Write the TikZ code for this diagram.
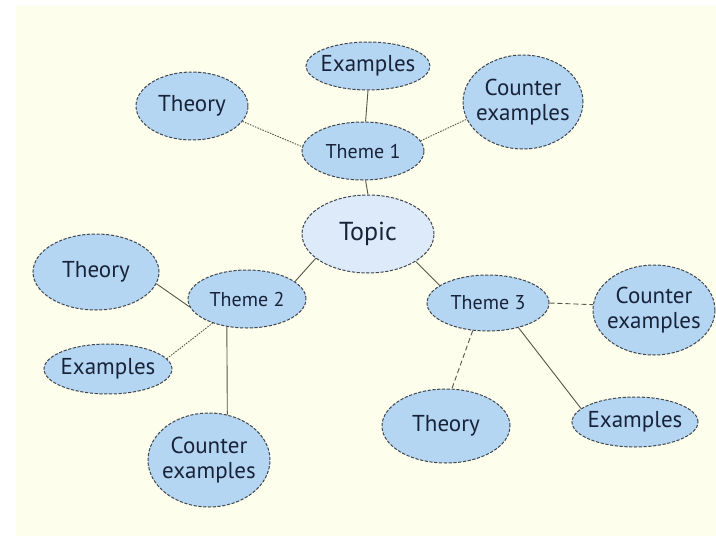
\documentclass[tikz,border=0pt]{standalone}
\usepackage{fontspec}
\setmainfont{PT Sans}
\usetikzlibrary{shapes.geometric}
\definecolor{bgcream}{HTML}{FEFEEC}
\definecolor{nodeblue}{HTML}{B5D6F2}
\definecolor{topicblue}{HTML}{DCEAF9}
\definecolor{edgegray}{HTML}{3F464F}
\definecolor{txtnavy}{HTML}{18233A}
\definecolor{linkgray}{HTML}{55554C}
\tikzset{
  bubble/.style={ellipse, draw=edgegray, line width=1pt, dash pattern=on 3.2pt off 1.6pt,
    fill=nodeblue, inner sep=-10pt, text=txtnavy, align=center,
    font=\fontsize{23}{25}\selectfont},
  themebubble/.style={bubble, font=\fontsize{20}{22}\selectfont},
  topicbubble/.style={bubble, fill=topicblue, font=\fontsize{26}{28}\selectfont},
  link/.style={draw=linkgray, line width=0.9pt},
  dotlink/.style={link, dash pattern=on 1.5pt off 1.2pt},
  dashlink/.style={link, dash pattern=on 5pt off 3pt}
}
\begin{document}
\begin{tikzpicture}[x=1pt,y=-1pt]
\useasboundingbox (0,0) rectangle (716,536);
\fill[white] (0,0) rectangle (716,536);
\fill[bgcream] (16,6) rectangle (716,536);

\node[topicbubble, minimum width=132pt, minimum height=78pt] (topic) at (368,234) {Topic};

\node[themebubble, minimum width=122pt, minimum height=58pt] (t1) at (363,151) {Theme 1};
\node[bubble, minimum width=124pt, minimum height=48pt] (ex1) at (368,66) {Examples};
\node[bubble, minimum width=112pt, minimum height=68pt] (th1) at (192,106) {Theory};
\node[bubble, minimum width=120pt, minimum height=94pt] (ce1) at (523,102) {Counter\\examples};

\node[themebubble, minimum width=118pt, minimum height=58pt] (t2) at (247,299) {Theme 2};
\node[bubble, minimum width=126pt, minimum height=76pt] (th2) at (96,272) {Theory};
\node[bubble, minimum width=128pt, minimum height=50pt] (ex2) at (108,369) {Examples};
\node[bubble, minimum width=122pt, minimum height=94pt] (ce2) at (209,460) {Counter\\examples};

\node[themebubble, minimum width=122pt, minimum height=56pt] (t3) at (488,303) {Theme 3};
\node[bubble, minimum width=122pt, minimum height=90pt] (ce3) at (654,310) {Counter\\examples};
\node[bubble, minimum width=128pt, minimum height=74pt] (th3) at (446,426) {Theory};
\node[bubble, minimum width=126pt, minimum height=50pt] (ex3) at (635,422) {Examples};

% links
\draw[link] (t1.275) -- (topic.north);
\draw[link] (ex1.south) -- (t1.85);
\draw[dotlink] (th1.343) -- (t1.176);
\draw[dotlink] (t1.10) -- (ce1.197);

\draw[link] (topic.205) -- (t2.20);
\draw[link] (th2.349) -- (t2.188);
\draw[dotlink] (ex2.10) -- (t2.215);
\draw[link] (t2.234) -- (ce2.68);

\draw[link] (topic.330) -- (t3.160);
\draw[dashlink] (t3.east) -- (ce3.175);
\draw[dashlink] (t3.241) -- (th3.81);
\draw[link] (t3.321) -- (ex3.166);
\end{tikzpicture}
\end{document}
